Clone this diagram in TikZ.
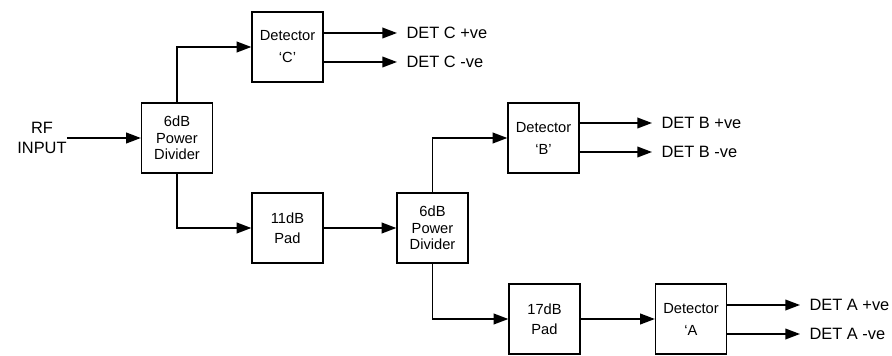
\documentclass[tikz,border=0pt]{standalone}
\usepackage{fontspec}
\setmainfont{Liberation Sans}
\usetikzlibrary{arrows.meta}

\tikzset{
  blk/.style={draw, line width=1.2pt, minimum width=53pt, minimum height=52.5pt,
    align=center, inner sep=1pt, font=\fontsize{11}{12.5}\selectfont},
  detblk/.style={blk, font=\fontsize{11}{16.5}\selectfont},
  padblk/.style={blk, font=\fontsize{11}{15}\selectfont},
  sig/.style={line width=1.2pt, -{Triangle[length=11pt,width=8pt]}},
  lbl/.style={font=\fontsize{12.3}{15}\selectfont, align=center, inner sep=0pt},
  outlbl/.style={lbl, anchor=west, inner xsep=7pt}
}

\begin{document}
\begin{tikzpicture}[x=0.75pt,y=-0.75pt]
    \useasboundingbox (0,0) rectangle (892,356);

    % input and first divider
    \node[lbl] (rf) at (42,138) {RF\\INPUT};
    \node[blk] (divA) at (177,138) {6dB\\Power\\Divider};
    \draw[sig] (rf.east) -- (divA.west);

    % detector C branch
    \node[detblk] (detC) at (287.5,47) {Detector\\‘C’};
    \draw[sig] (divA.north) |- (detC.west);
    \node[outlbl] (cPos) at (397,33) {DET C +ve};
    \node[outlbl] (cNeg) at (397,62) {DET C -ve};
    \draw[sig] (detC.east |- cPos.west) -- (cPos.west);
    \draw[sig] (detC.east |- cNeg.west) -- (cNeg.west);

    % pad and second divider
    \node[padblk] (padA) at (287.5,228) {11dB\\Pad};
    \node[blk] (divB) at (432.5,228) {6dB\\Power\\Divider};
    \draw[sig] (divA.south) |- (padA.west);
    \draw[sig] (padA.east) -- (divB.west);

    % detector B branch
    \node[detblk] (detB) at (543.5,138) {Detector\\‘B’};
    \draw[sig] (divB.north) |- (detB.west);
    \node[outlbl] (bPos) at (652,123) {DET B +ve};
    \node[outlbl] (bNeg) at (652,152) {DET B -ve};
    \draw[sig] (detB.east |- bPos.west) -- (bPos.west);
    \draw[sig] (detB.east |- bNeg.west) -- (bNeg.west);

    % detector A branch
    \node[padblk] (padB) at (544.5,319) {17dB\\Pad};
    \node[detblk] (detA) at (691,319) {Detector\\‘A};
    \draw[sig] (divB.south) |- (padB.west);
    \draw[sig] (padB.east) -- (detA.west);
    \node[outlbl] (aPos) at (800,305) {DET A +ve};
    \node[outlbl] (aNeg) at (800,334) {DET A -ve};
    \draw[sig] (detA.east |- aPos.west) -- (aPos.west);
    \draw[sig] (detA.east |- aNeg.west) -- (aNeg.west);
\end{tikzpicture}
\end{document}
